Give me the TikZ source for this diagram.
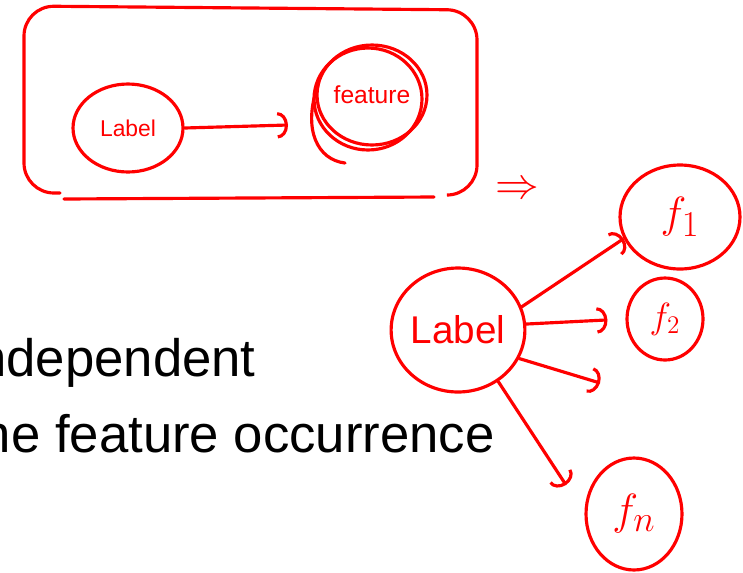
\documentclass[tikz,border=0pt]{standalone}
\usepackage{fontspec}
\setmainfont{Liberation Sans}
\usetikzlibrary{shapes.geometric,arrows.meta}

\begin{document}
\begin{tikzpicture}[x=0.02cm,y=-0.02cm,>={Arc Barb[length=6pt,width=15pt]},line cap=round,
    main node/.style={ellipse,draw=red,text=red,inner sep=0pt,line width=1.8pt},
    hand/.style={red,line width=1.8pt},
    big text/.style={anchor=base east,inner sep=0pt,font=\fontsize{30}{36}\selectfont}]
  \useasboundingbox (0,0) rectangle (743,572);
  \clip (0,0) rectangle (743,572);

  % the framed model
  \draw[hand,rounded corners=0.6cm] (60,193) -- (24,193) -- (24,6) -- (477,10) -- (477,195) -- (449,195);
  \draw[hand] (64,199) -- (434,197);
  \node[main node,minimum width=2.2cm,minimum height=1.76cm,font=\fontsize{13}{13}\selectfont] (label1) at (128,128) {Label};
  \node[main node,minimum width=2.2cm,minimum height=2cm,font=\fontsize{14}{14}\selectfont] (feature) at (372,95) {feature};
  \draw[hand] (feature.center) ++(-4,4) ellipse [x radius=1.08cm,y radius=1.02cm];
  \draw[hand] (318,85) .. controls (302,130) and (318,160) .. (345,163);
  \coordinate (featTip) at (288,125);
  \path[hand,->] (label1.east) edge (featTip);

  \node[red,font=\fontsize{30}{30}\selectfont] (implies) at (517,190) {$\Rightarrow$};

  % one label, many features
  \node[main node,minimum width=2.52cm,minimum height=2.48cm,font=\fontsize{22}{22}\selectfont] (label2) at (458,330) {Label};
  \node[main node,minimum width=2.4cm,minimum height=2.08cm,font=\fontsize{28}{28}\selectfont] (f1) at (680,217) {$f_1$};
  \node[main node,minimum width=1.52cm,minimum height=1.64cm,font=\fontsize{22}{22}\selectfont] (f2) at (665,319) {$f_2$};
  \node[main node,minimum width=1.92cm,minimum height=2.24cm,font=\fontsize{29}{29}\selectfont] (fn) at (634,514) {$f_n$};
  \coordinate (midTip) at (600,383);
  \coordinate (fnTip) at (566,485);

  \path[hand,->]
    (label2.20) edge (f1.201)
    (label2.5) edge[shorten >=0.36cm] (f2.west)
    (label2.-25) edge (midTip)
    (label2.-52) edge (fnTip);

  % slide text
  \node[big text] (line1) at (256,376) {ndependent};
  \node[big text] (line2) at (495,452) {he feature occurrence};
\end{tikzpicture}
\end{document}
